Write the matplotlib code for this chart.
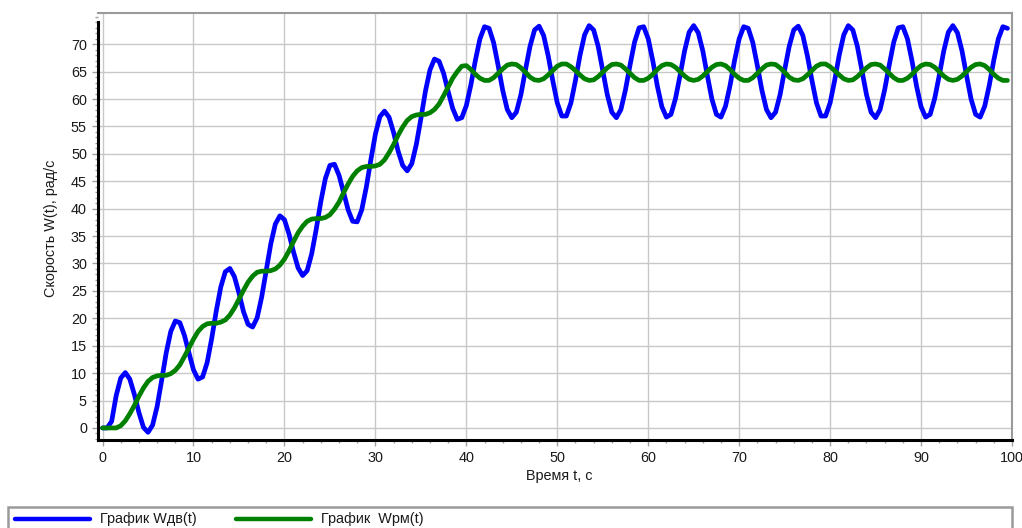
import numpy as np
import matplotlib.pyplot as plt
from matplotlib.lines import Line2D
from matplotlib.patches import Rectangle
from matplotlib.ticker import MultipleLocator

plt.rcParams['font.family'] = ['Liberation Sans', 'DejaVu Sans']

# time grid, s
time_s = np.arange(0, 100, 0.5)

# motor speed W_dv(t), rad/s
w_dv = [
    0, 0, 1.2, 5.9, 9.1, 10.1, 8.9, 6.1, 2.8, 0.1,
    -0.8, 0.5, 3.9, 8.7, 13.7, 17.6, 19.5, 19.2, 16.9, 13.7,
    10.6, 8.9, 9.3, 11.9, 16.3, 21.3, 25.7, 28.5, 29.1, 27.6,
    24.6, 21.2, 18.9, 18.4, 20.1, 23.9, 28.8, 33.6, 37.2, 38.7,
    38.0, 35.4, 32.1, 29.2, 27.8, 28.7, 31.8, 36.3, 41.3, 45.5,
    47.9, 48.1, 46.1, 43.0, 39.8, 37.7, 37.6, 39.8, 43.9, 48.9,
    53.6, 56.8, 57.8, 56.7, 53.9, 50.5, 47.9, 46.9, 48.2, 51.7,
    56.4, 61.4, 65.3, 67.3, 66.9, 64.7, 61.4, 58.3, 56.3, 56.6,
    58.8, 62.6, 67.1, 71.0, 73.2,
    72.9, 70.3, 66.1, 61.6, 58.1, 56.6, 57.6, 60.8, 65.3, 69.6,
    72.6, 73.3, 71.6, 67.9, 63.4, 59.3, 56.9, 56.9, 59.3, 63.4,
    68.0, 71.7, 73.4, 72.6, 69.6, 65.2, 60.8, 57.6, 56.6,
    58.1, 61.7, 66.2, 70.4, 73.0, 73.2, 71.0, 67.0, 62.4, 58.6,
    56.7, 57.2, 60.1, 64.3, 68.8, 72.2, 73.4, 72.1, 68.8, 64.3,
    60.0, 57.2, 56.7, 58.7, 62.5, 67.1, 71.0, 73.2, 72.9, 70.3,
    66.1, 61.6, 58.1, 56.6, 57.6, 60.8, 65.3, 69.6, 72.6, 73.3,
    71.6, 67.9, 63.4, 59.3, 56.9, 56.9, 59.3, 63.4, 68.0, 71.7,
    73.4, 72.6, 69.6, 65.2, 60.8, 57.6, 56.6,
    58.1, 61.7, 66.2, 70.4, 73.0, 73.2, 71.0, 67.0, 62.4, 58.6,
    56.7, 57.2, 60.1, 64.3, 68.8, 72.2, 73.4, 72.1, 68.8, 64.3,
    60.0, 57.2, 56.7, 58.7, 62.5, 67.1, 71.0, 73.2, 72.9,
]

# mechanism speed W_rm(t), rad/s
w_rm = [
    0, 0, 0, 0, 0.4, 1.3, 2.6, 4.1, 5.8, 7.3,
    8.5, 9.2, 9.5, 9.6, 9.6, 9.9, 10.5, 11.5, 13.0, 14.6,
    16.2, 17.6, 18.5, 19.0, 19.1, 19.1, 19.3, 19.7, 20.6, 21.9,
    23.5, 25.1, 26.6, 27.7, 28.4, 28.6, 28.6, 28.7, 29.0, 29.7,
    30.8, 32.3, 34.0, 35.6, 36.8, 37.7, 38.1, 38.2, 38.2, 38.4,
    38.9, 39.9, 41.2, 42.9, 44.5, 45.9, 46.9, 47.5, 47.7, 47.7,
    47.8, 48.1, 48.9, 50.2, 51.7, 53.4, 54.9, 56.1, 56.8, 57.1,
    57.2, 57.2, 57.5, 58.1, 59.1, 60.6, 62.2, 63.8, 65.0, 66.0,
    66.1, 65.4, 64.5, 63.8, 63.4,
    63.4, 63.9, 64.7, 65.5, 66.2, 66.4, 66.3, 65.7, 64.9, 64.0,
    63.5, 63.4, 63.7, 64.4, 65.2, 66.0, 66.4, 66.4, 65.9, 65.2,
    64.4, 63.7, 63.4, 63.5, 64.1, 64.9, 65.7, 66.3, 66.4,
    66.2, 65.5, 64.7, 63.9, 63.4, 63.4, 63.8, 64.5, 65.4, 66.1,
    66.4, 66.3, 65.8, 65.0, 64.2, 63.6, 63.4, 63.6, 64.2, 65.0,
    65.8, 66.3, 66.4, 66.1, 65.4, 64.5, 63.8, 63.4, 63.4, 63.9,
    64.7, 65.5, 66.2, 66.4, 66.3, 65.7, 64.9, 64.0, 63.5, 63.4,
    63.7, 64.4, 65.2, 66.0, 66.4, 66.4, 65.9, 65.2, 64.4, 63.7,
    63.4, 63.5, 64.1, 64.9, 65.7, 66.3, 66.4,
    66.2, 65.5, 64.7, 63.9, 63.4, 63.4, 63.8, 64.5, 65.4, 66.1,
    66.4, 66.3, 65.8, 65.0, 64.2, 63.6, 63.4, 63.6, 64.2, 65.0,
    65.8, 66.3, 66.4, 66.1, 65.4, 64.5, 63.8, 63.4, 63.4,
]

legend_labels = ['График Wдв(t)', 'График  Wрм(t)']
line_colors = ['#0000ff', '#008000']
FS = 10.4

W, H = 1022, 528
fig = plt.figure(figsize=(W / 100, H / 100), dpi=100)
ax = fig.add_axes([98 / W, 1 - 440 / H, (1012 - 98) / W, (440 - 13) / H])

line_kw = dict(lw=3.4, solid_capstyle='round', solid_joinstyle='round')
ax.plot(time_s, w_dv, color=line_colors[0], zorder=3, **line_kw)
ax.plot(time_s, w_rm, color=line_colors[1], zorder=4, **line_kw)

ax.set_xlim(-0.5, 100)
ax.set_ylim(-2.2, 75.7)
ax.xaxis.set_major_locator(MultipleLocator(10))
ax.xaxis.set_minor_locator(MultipleLocator(2))
ax.yaxis.set_major_locator(MultipleLocator(5))
ax.yaxis.set_minor_locator(MultipleLocator(1))
ax.set_yticks(np.arange(0, 75, 5))

ax.grid(True, which='major', color='#c8c8c8', lw=1)
ax.tick_params(which='both', direction='out', color='#a0a0a0', labelsize=FS,
               labelcolor='#1a1a1a')
ax.tick_params(which='major', length=4, width=1, pad=4)
ax.tick_params(which='minor', length=2.5, width=1)

for side in ['left', 'bottom']:
    ax.spines[side].set_color('black')
    ax.spines[side].set_linewidth(2.2)
ax.spines['left'].set_bounds(-2.2, 74.1)
for side in ['top', 'right']:
    ax.spines[side].set_color('#9a9a9a')
    ax.spines[side].set_linewidth(1.5)

fig.text(559 / W, 1 - 476 / H, 'Время t, с', ha='center', va='center',
         fontsize=FS, color='#1a1a1a')
fig.text(51 / W, 1 - 228 / H, 'Скорость W(t), рад/с', ha='center', va='center',
         rotation=90, fontsize=FS, color='#1a1a1a')

# legend panel at the bottom
fig.patches.append(Rectangle((8 / W, -0.05), (1012 - 8) / W, 0.05 + 1 - 507 / H,
                             transform=fig.transFigure, facecolor='white',
                             edgecolor='#9a9a9a', lw=1.8))
ly = 1 - 519 / H
for (x0, x1, xt), lab, col in zip([(15, 90, 100), (236, 311, 321)], legend_labels, line_colors):
    fig.add_artist(Line2D([x0 / W, x1 / W], [ly, ly], transform=fig.transFigure,
                          color=col, lw=3.2, solid_capstyle='round'))
    fig.text(xt / W, ly, lab, ha='left', va='center', fontsize=FS, color='#1a1a1a')

fig.savefig('out.png', dpi=100)
